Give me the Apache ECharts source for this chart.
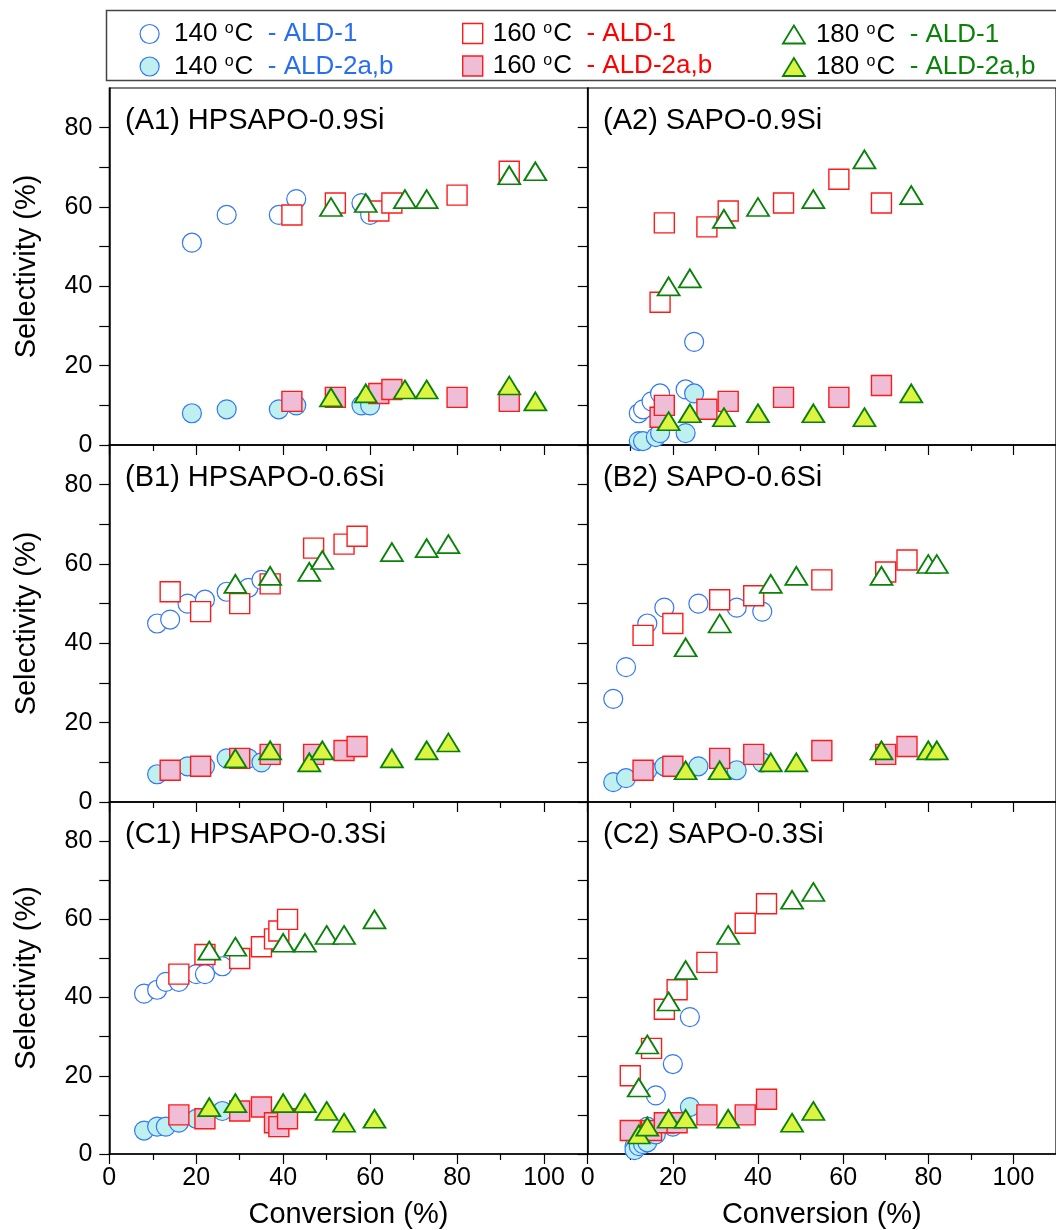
<!DOCTYPE html>
<html><head><meta charset="utf-8">
<script src="https://cdn.jsdelivr.net/npm/echarts@6/dist/echarts.min.js"></script>
<style>html,body{margin:0;padding:0;background:#fff}#c{width:1056px;height:1230px}</style>
</head><body><div id="c"></div>
<script>
// ---------- tick labels ----------
const X_MAJOR = [0, 20, 40, 60, 80, 100];
const X_MINOR = [10, 30, 50, 70, 90];
const Y_TICKS = [0, 10, 20, 30, 40, 50, 60, 70, 80];
const Y_LABELS = [0, 20, 40, 60, 80];

// ---------- panel titles ----------
const PANEL_TITLES = ['(A1) HPSAPO-0.9Si', '(A2) SAPO-0.9Si', '(B1) HPSAPO-0.6Si', '(B2) SAPO-0.6Si', '(C1) HPSAPO-0.3Si', '(C2) SAPO-0.3Si'];

// ---------- data [conversion %, selectivity %] ----------
// A1 HPSAPO-0.9Si
const A1_140_ALD1 = [[19,51],[27,58],[39,58],[43,62],[58,61],[60,58]];
const A1_140_ALD2 = [[19,8],[27,9],[39,9],[43,10],[58,10],[60,10]];
const A1_160_ALD1 = [[42,58],[52,61],[62,59],[65,61],[80,63],[92,69]];
const A1_160_ALD2 = [[42,11],[52,12],[62,13],[65,14],[80,12],[92,11]];
const A1_180_ALD1 = [[51,60],[59,61],[68,62],[73,62],[92,68],[98,69]];
const A1_180_ALD2 = [[51,12],[59,13],[68,14],[73,14],[92,15],[98,11]];
// A2 SAPO-0.9Si
const A2_140_ALD1 = [[12,8],[13,9],[15,11],[17,13],[23,14],[25,26]];
const A2_140_ALD2 = [[12,1],[13,1],[16,2],[17,3],[23,3],[25,13]];
const A2_160_ALD1 = [[17,36],[18,56],[28,55],[33,59],[46,61],[59,67],[69,61]];
const A2_160_ALD2 = [[17,7],[18,10],[28,9],[33,11],[46,12],[59,12],[69,15]];
const A2_180_ALD1 = [[19,40],[24,42],[32,57],[40,60],[53,62],[65,72],[76,63]];
const A2_180_ALD2 = [[19,6],[24,8],[32,7],[40,8],[53,8],[65,7],[76,13]];
// B1 HPSAPO-0.6Si
const B1_140_ALD1 = [[11,45],[14,46],[18,50],[22,51],[27,53],[32,54],[35,56]];
const B1_140_ALD2 = [[11,7],[14,8],[18,9],[22,9],[27,11],[32,11],[35,10]];
const B1_160_ALD1 = [[14,53],[21,48],[30,50],[37,55],[47,64],[54,65],[57,67]];
const B1_160_ALD2 = [[14,8],[21,9],[30,11],[37,12],[47,12],[54,13],[57,14]];
const B1_180_ALD1 = [[29,55],[37,57],[46,58],[49,61],[65,63],[73,64],[78,65]];
const B1_180_ALD2 = [[29,11],[37,13],[46,10],[49,13],[65,11],[73,13],[78,15]];
// B2 SAPO-0.6Si
const B2_140_ALD1 = [[6,26],[9,34],[14,45],[18,49],[26,50],[35,49],[41,48]];
const B2_140_ALD2 = [[6,5],[9,6],[14,8],[18,9],[26,9],[35,8],[41,10]];
const B2_160_ALD1 = [[13,42],[20,45],[31,51],[39,52],[55,56],[70,58],[75,61]];
const B2_160_ALD2 = [[13,8],[20,9],[31,11],[39,12],[55,13],[70,12],[75,14]];
const B2_180_ALD1 = [[23,39],[31,45],[43,55],[49,57],[69,57],[80,60],[82,60]];
const B2_180_ALD2 = [[23,8],[31,8],[43,10],[49,10],[69,13],[80,13],[82,13]];
// C1 HPSAPO-0.3Si
const C1_140_ALD1 = [[8,41],[11,42],[13,44],[16,44],[20,46],[22,46],[26,48]];
const C1_140_ALD2 = [[8,6],[11,7],[13,7],[16,8],[20,9],[26,11]];
const C1_160_ALD1 = [[16,46],[22,51],[30,50],[35,53],[38,55],[39,57],[41,60]];
const C1_160_ALD2 = [[16,10],[22,9],[30,11],[35,12],[38,8],[39,7],[41,9]];
const C1_180_ALD1 = [[23,52],[29,53],[40,54],[45,54],[50,56],[54,56],[61,60]];
const C1_180_ALD2 = [[23,12],[29,13],[40,13],[45,13],[50,11],[54,8],[61,9]];
// C2 SAPO-0.3Si
const C2_140_ALD1 = [[11,2],[12,3],[14,7],[16,15],[20,23],[24,35]];
const C2_140_ALD2 = [[11,1],[12,2],[13,2.5],[14,3],[16,5],[20,7],[24,12]];
const C2_160_ALD1 = [[10,20],[15,27],[18,37],[21,42],[28,49],[37,59],[42,64]];
const C2_160_ALD2 = [[10,6],[15,6],[18,8],[21,8],[28,10],[37,10],[42,14]];
const C2_180_ALD1 = [[12,17],[14,28],[19,39],[23,47],[33,56],[48,65],[53,67]];
const C2_180_ALD2 = [[12,5],[14,7],[19,9],[23,9],[33,9],[48,8],[53,11]];

const PANEL_DATA = [
  [A1_140_ALD1, A1_140_ALD2, A1_160_ALD1, A1_160_ALD2, A1_180_ALD1, A1_180_ALD2],
  [A2_140_ALD1, A2_140_ALD2, A2_160_ALD1, A2_160_ALD2, A2_180_ALD1, A2_180_ALD2],
  [B1_140_ALD1, B1_140_ALD2, B1_160_ALD1, B1_160_ALD2, B1_180_ALD1, B1_180_ALD2],
  [B2_140_ALD1, B2_140_ALD2, B2_160_ALD1, B2_160_ALD2, B2_180_ALD1, B2_180_ALD2],
  [C1_140_ALD1, C1_140_ALD2, C1_160_ALD1, C1_160_ALD2, C1_180_ALD1, C1_180_ALD2],
  [C2_140_ALD1, C2_140_ALD2, C2_160_ALD1, C2_160_ALD2, C2_180_ALD1, C2_180_ALD2]
];

// ---------- series labels ----------
const SERIES_TEMPS = ['140', '140', '160', '160', '180', '180'];
const SERIES_ALD = ['ALD-1', 'ALD-2a,b', 'ALD-1', 'ALD-2a,b', 'ALD-1', 'ALD-2a,b'];

// ---------- styles ----------
const FONT = '"Liberation Sans", Arial, Helvetica, sans-serif';
const BLUE = '#3377f5', RED = '#ff1a1a', GREEN = '#0a820a';
const STYLES = [
  {symbol: 'circle', size: 19, fill: '#ffffff', stroke: BLUE, bw: 1.2, text: '#2a6ef0'},
  {symbol: 'circle', size: 19, fill: '#bff0f0', stroke: BLUE, bw: 1.2, text: '#2a6ef0'},
  {symbol: 'rect', size: 20, fill: '#ffffff', stroke: RED, bw: 1.4, text: '#ff0000'},
  {symbol: 'rect', size: 20, fill: '#efbdd6', stroke: RED, bw: 1.4, text: '#ff0000'},
  {symbol: 'triangle', size: [22, 18], fill: '#ffffff', stroke: GREEN, bw: 1.8, text: '#0a820a'},
  {symbol: 'triangle', size: [22, 18], fill: '#ddf542', stroke: GREEN, bw: 1.8, text: '#0a820a'}
];

const chart = echarts.init(document.getElementById('c'), null, {renderer: 'canvas'});

const COL_LEFT = [109.3, 587.7];
const ROW_TOP = [88, 445, 802];
const PW = 478.2, PH = 357;

const grids = [], xAxes = [], yAxes = [], series = [], titles = [];
const axLine = {color: '#000', width: 1.5};
const tkLine = {color: '#000', width: 1.2};

for (let i = 0; i < 6; i++) {
  const row = Math.floor(i / 2), col = i % 2;
  grids.push({left: COL_LEFT[col], top: ROW_TOP[row], width: PW, height: PH,
    show: true, borderColor: '#000', borderWidth: 1.2, backgroundColor: 'transparent'});
  const isBottom = row === 2, isLeft = col === 0;
  xAxes.push({
    gridIndex: i, type: 'value', min: 0, max: 110, position: 'bottom',
    axisLine: {show: true, onZero: false, lineStyle: axLine},
    axisTick: {show: true, customValues: X_MAJOR, length: 10, inside: false, lineStyle: tkLine},
    axisLabel: {show: isBottom, customValues: X_MAJOR, fontSize: 25, color: '#000', margin: 12, fontFamily: FONT},
    splitLine: {show: false},
    name: isBottom ? 'Conversion (%)' : '', nameLocation: 'middle', nameGap: 46,
    nameTextStyle: {fontSize: 29, color: '#000', fontFamily: FONT}
  });
  xAxes.push({
    gridIndex: i, type: 'value', min: 0, max: 110, position: 'bottom',
    axisLine: {show: false},
    axisTick: {show: true, customValues: X_MINOR, length: 6, inside: false, lineStyle: tkLine},
    axisLabel: {show: false}, splitLine: {show: false}
  });
  yAxes.push({
    gridIndex: i, type: 'value', min: 0, max: 90, position: 'left',
    axisLine: {show: true, onZero: false, lineStyle: axLine},
    axisTick: {show: true, customValues: Y_TICKS, length: 10, inside: false, lineStyle: tkLine},
    axisLabel: {show: isLeft, customValues: Y_LABELS, fontSize: 25, color: '#000', margin: 17, fontFamily: FONT},
    splitLine: {show: false},
    name: isLeft ? 'Selectivity (%)' : '', nameLocation: 'middle', nameGap: 68,
    nameTextStyle: {fontSize: 29, color: '#000', fontFamily: FONT}
  });
  titles.push({
    text: PANEL_TITLES[i], left: isLeft ? 125 : 603, top: ROW_TOP[row] + 18, padding: 0,
    textStyle: {fontSize: 29, fontWeight: 'normal', color: '#000', fontFamily: FONT}
  });
  PANEL_DATA[i].forEach((d, k) => {
    const s = STYLES[k];
    series.push({
      type: 'scatter', name: SERIES_TEMPS[k] + ' ' + SERIES_ALD[k],
      xAxisIndex: 2 * i, yAxisIndex: i,
      symbol: s.symbol, symbolSize: s.size, data: d,
      itemStyle: {color: s.fill, borderColor: s.stroke, borderWidth: s.bw, opacity: 1},
      emphasis: {disabled: true}, animation: false
    });
  });
}

// ---------- legend (one component per entry) ----------
const LEG_X = [139.5, 462, 782];     // icon left edges per column
const LEG_PAD = [10, 5, 6];
const LEG_Y = [30.5, 63];
const legends = [];
for (let k = 0; k < 6; k++) {
  const col = Math.floor(k / 2), row = k % 2, s = STYLES[k];
  const iw = Array.isArray(s.size) ? s.size[0] : s.size;
  const ih = Array.isArray(s.size) ? s.size[1] : s.size;
  legends.push({
    data: [{name: SERIES_TEMPS[k] + ' ' + SERIES_ALD[k], icon: s.symbol}],
    left: LEG_X[col], top: LEG_Y[row] - ih / 2, padding: 0,
    itemWidth: iw, itemHeight: ih, selectedMode: false,
    itemStyle: {color: s.fill, borderColor: s.stroke, borderWidth: s.bw},
    formatter: '{g| }{t|' + SERIES_TEMPS[k] + ' }{s|o}{t|C}  {b|- ' + SERIES_ALD[k] + '}',
    textStyle: {fontSize: 26, fontFamily: FONT, color: '#000',
      rich: {
        g: {width: LEG_PAD[col], fontSize: 26},
        t: {fontSize: 26, color: '#000', fontFamily: FONT},
        s: {fontSize: 16, color: '#000', fontFamily: FONT, verticalAlign: 'top', padding: [0, 1, 0, 0]},
        b: {fontSize: 26, color: s.text, fontFamily: FONT}
      }}
  });
}

chart.setOption({
  animation: false,
  backgroundColor: '#ffffff',
  title: titles,
  grid: grids, xAxis: xAxes, yAxis: yAxes, series: series,
  legend: legends,
  graphic: [{
    type: 'rect', shape: {x: 106.5, y: 10.5, width: 1000, height: 70},
    style: {fill: 'none', stroke: '#444', lineWidth: 1.5}, silent: true, z: 10
  }]
});
</script></body></html>
